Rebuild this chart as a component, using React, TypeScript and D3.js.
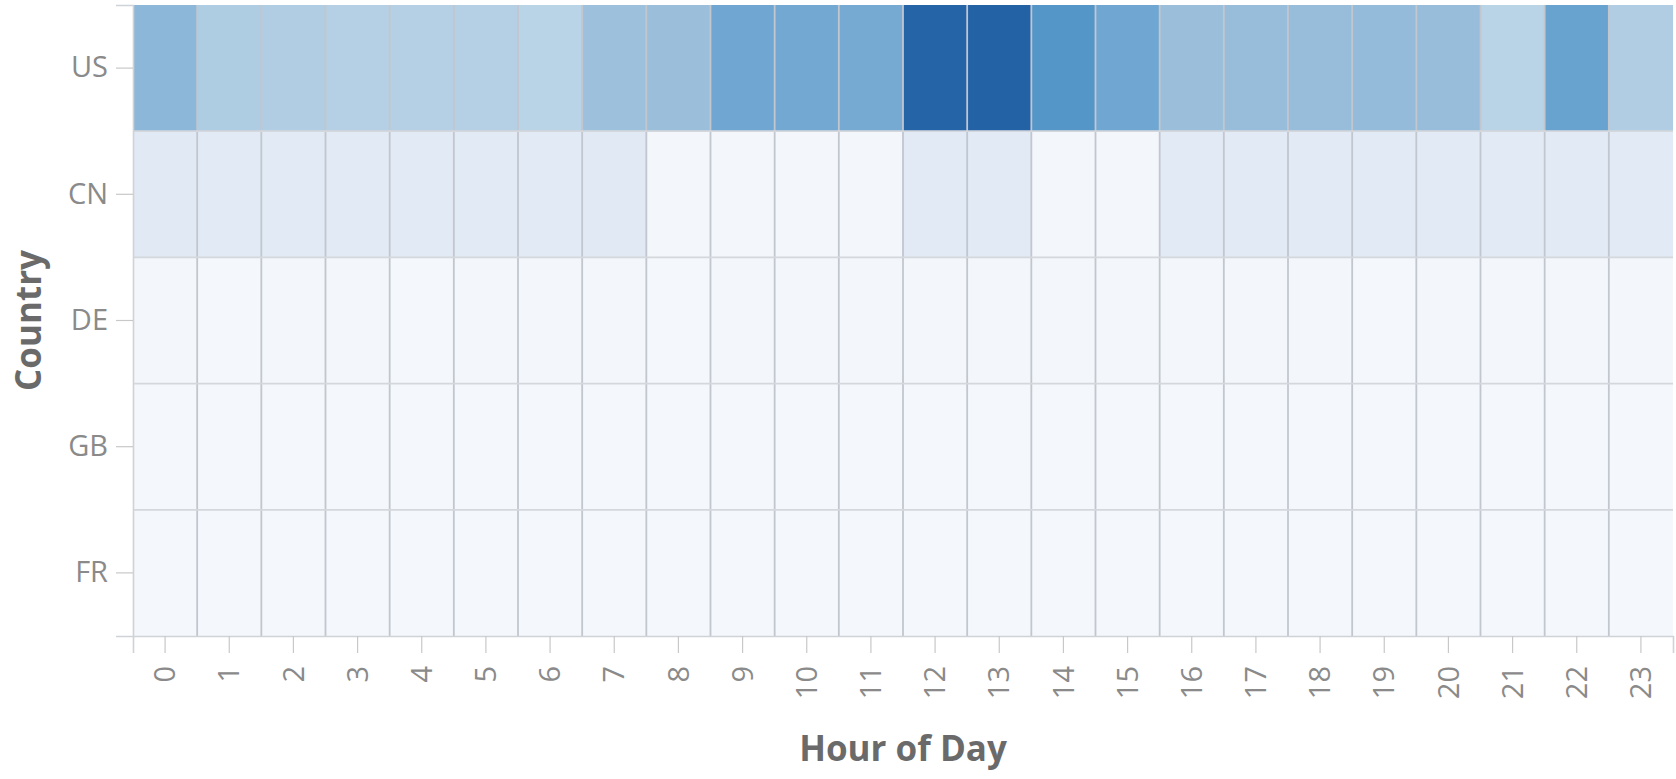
import React, { useEffect, useRef } from 'react';
import * as d3 from 'd3';

// hour-of-day categories and country rows
const hours = ['0', '1', '2', '3', '4', '5', '6', '7', '8', '9', '10', '11',
  '12', '13', '14', '15', '16', '17', '18', '19', '20', '21', '22', '23'];
const countries = ['US', 'CN', 'DE', 'GB', 'FR'];

// sessions per hour, one array per country
const usSessions = [578, 434, 422, 398, 398, 398, 373, 518, 530, 675, 663, 651,
  988, 1000, 771, 675, 530, 542, 542, 554, 542, 373, 699, 422];
const cnSessions = [133, 120, 120, 118, 120, 120, 118, 126, 14, 15, 12, 13,
  122, 120, 14, 13, 120, 120, 118, 120, 120, 118, 120, 120];
const deSessions = [10, 9, 10, 10, 9, 10, 10, 10, 9, 10, 10, 10,
  11, 10, 10, 10, 10, 10, 10, 9, 10, 10, 10, 10];
const gbSessions = [9, 9, 9, 9, 9, 9, 9, 9, 9, 9, 9, 9,
  9, 9, 9, 9, 9, 9, 9, 9, 9, 9, 9, 9];
const frSessions = [8, 8, 8, 8, 8, 8, 8, 8, 8, 8, 8, 8,
  8, 8, 8, 8, 8, 8, 8, 8, 8, 8, 8, 8];

const seriesByCountry: Record<string, number[]> = {
  US: usSessions,
  CN: cnSessions,
  DE: deSessions,
  GB: gbSessions,
  FR: frSessions,
};

// muted blue ramp (value stops -> colour)
const colorStops = [0, 120, 400, 530, 670, 770, 1000];
const colorRange = ['#f5f8fc', '#e2eaf5', '#b5d0e5', '#9bbfdb', '#70a7d2', '#5596c8', '#2262a5'];

const width = 1676;
const height = 779;

const Heatmap: React.FC = () => {
  const svgRef = useRef<SVGSVGElement>(null);

  useEffect(() => {
    if (!svgRef.current) return;
    const svg = d3.select(svgRef.current);
    svg.selectAll('*').remove();

    const margin = { top: 5, right: 3, bottom: 143, left: 133 };
    const innerWidth = width - margin.left - margin.right;
    const innerHeight = height - margin.top - margin.bottom;

    const x = d3.scaleBand<string>().domain(hours).range([0, innerWidth]);
    const y = d3.scaleBand<string>().domain(countries).range([0, innerHeight]);

    const color = d3.scaleLinear<string>()
      .domain(colorStops)
      .range(colorRange)
      .interpolate(d3.interpolateRgb)
      .clamp(true);

    const cells = countries.flatMap(c =>
      hours.map((h, i) => ({ country: c, hour: h, value: seriesByCountry[c][i] }))
    );

    const g = svg.append('g')
      .attr('transform', `translate(${margin.left},${margin.top})`);

    g.selectAll('rect.cell')
      .data(cells)
      .join('rect')
      .attr('class', 'cell')
      .attr('x', d => x(d.hour)!)
      .attr('y', d => y(d.country)!)
      .attr('width', x.bandwidth())
      .attr('height', y.bandwidth())
      .attr('fill', d => color(d.value));

    // grid lines on band edges
    g.append('g')
      .selectAll('line')
      .data(hours.slice(1))
      .join('line')
      .attr('x1', d => x(d)!)
      .attr('x2', d => x(d)!)
      .attr('y1', 0)
      .attr('y2', innerHeight)
      .attr('stroke', '#c2c6ce')
      .attr('stroke-width', 1.8);

    g.append('g')
      .selectAll('line')
      .data(countries.slice(1))
      .join('line')
      .attr('x1', 0)
      .attr('x2', innerWidth)
      .attr('y1', d => y(d)!)
      .attr('y2', d => y(d)!)
      .attr('stroke', '#d4d7dc')
      .attr('stroke-width', 1.8);

    const tickSize = 17;

    // x axis
    const xAxis = g.append('g')
      .attr('transform', `translate(0,${innerHeight})`)
      .call(d3.axisBottom(x).tickSize(tickSize).tickSizeOuter(tickSize));

    xAxis.selectAll('text')
      .attr('transform', 'rotate(-90)')
      .attr('text-anchor', 'end')
      .attr('x', -30)
      .attr('y', 0)
      .attr('dy', '0.35em');

    // y axis
    const yAxis = g.append('g')
      .call(d3.axisLeft(y).tickSize(tickSize).tickSizeOuter(tickSize).tickPadding(8));

    [xAxis, yAxis].forEach(ax => {
      ax.select('.domain').attr('stroke', '#cfd2d6').attr('stroke-width', 1.6);
      ax.selectAll('.tick line').attr('stroke', '#c8c8c8').attr('stroke-width', 1.2);
      ax.selectAll('.tick text')
        .attr('fill', '#8a8a8a')
        .attr('font-size', '29px')
        .attr('font-family', 'Open Sans');
    });

    // axis titles
    svg.append('text')
      .attr('x', margin.left + innerWidth / 2)
      .attr('y', 761)
      .attr('text-anchor', 'middle')
      .attr('font-family', 'Open Sans')
      .attr('font-weight', 'bold')
      .attr('font-size', '35px')
      .attr('fill', '#6a6a6a')
      .text('Hour of Day');

    svg.append('text')
      .attr('transform', `translate(29,${margin.top + innerHeight / 2}) rotate(-90)`)
      .attr('text-anchor', 'middle')
      .attr('dy', '0.35em')
      .attr('font-family', 'Open Sans')
      .attr('font-weight', 'bold')
      .attr('font-size', '35px')
      .attr('fill', '#6a6a6a')
      .text('Country');
  }, []);

  return (
    <svg
      ref={svgRef}
      width={width}
      height={height}
      style={{ position: 'absolute', left: 0, top: 0, background: '#fff' }}
    />
  );
};

export default function App() {
  return <Heatmap />;
}
